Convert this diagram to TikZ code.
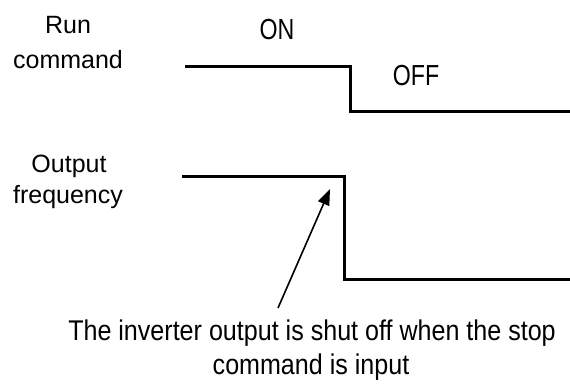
\documentclass[tikz,border=0pt]{standalone}
\usepackage{fontspec}
\setmainfont{Liberation Sans}
\newfontfamily\narrowfont{Liberation Sans}[FakeStretch=0.80]
\newfontfamily\notefont{Liberation Sans}[FakeStretch=0.88]
\usetikzlibrary{arrows.meta}

\begin{document}
\begin{tikzpicture}[x=1pt,y=-1pt]
\useasboundingbox (0,0) rectangle (570,383);
\begin{scope}[every node/.style={anchor=base,inner sep=0pt},
              sig_label/.style={font=\fontsize{25}{30}\selectfont},
              state_label/.style={font=\narrowfont\fontsize{29}{33}\selectfont},
              note_label/.style={font=\notefont\fontsize{28.5}{33}\selectfont}]
    \node[sig_label] (Run) at (68, 33) {Run};
    \node[sig_label] (RunCmd) at (68, 68) {command};
    \node[sig_label] (Output) at (69, 172) {Output};
    \node[sig_label] (Freq) at (68, 203) {frequency};
    \node[state_label] (On) at (277, 39) {ON};
    \node[state_label] (Off) at (416, 85) {OFF};
    \node[note_label] (Note1) at (312, 340) {The inverter output is shut off when the stop};
    \node[note_label] (Note2) at (311, 374) {command is input};
\end{scope}
\coordinate (RunStart) at (185, 66);
\coordinate (RunFall) at (350, 66);
\coordinate (RunLow) at (350, 111);
\coordinate (RunEnd) at (570, 111);
\coordinate (OutStart) at (182, 176);
\coordinate (OutFall) at (344, 176);
\coordinate (OutLow) at (344, 279);
\coordinate (OutEnd) at (570, 279);
\coordinate (ShutTail) at (278, 308);
\coordinate (ShutTip) at (330, 189);
\begin{scope}[>={Triangle[length=16pt,width=12pt]},
              signal/.style={draw=black,line width=3pt,line join=miter},
              pointer/.style={draw=black,line width=1.6pt}]
    \draw [signal] (RunStart) -- (RunFall) -- (RunLow) -- (RunEnd);
    \draw [signal] (OutStart) -- (OutFall) -- (OutLow) -- (OutEnd);
    \path [->] (ShutTail) edge [pointer] (ShutTip);
\end{scope}
\end{tikzpicture}
\end{document}
